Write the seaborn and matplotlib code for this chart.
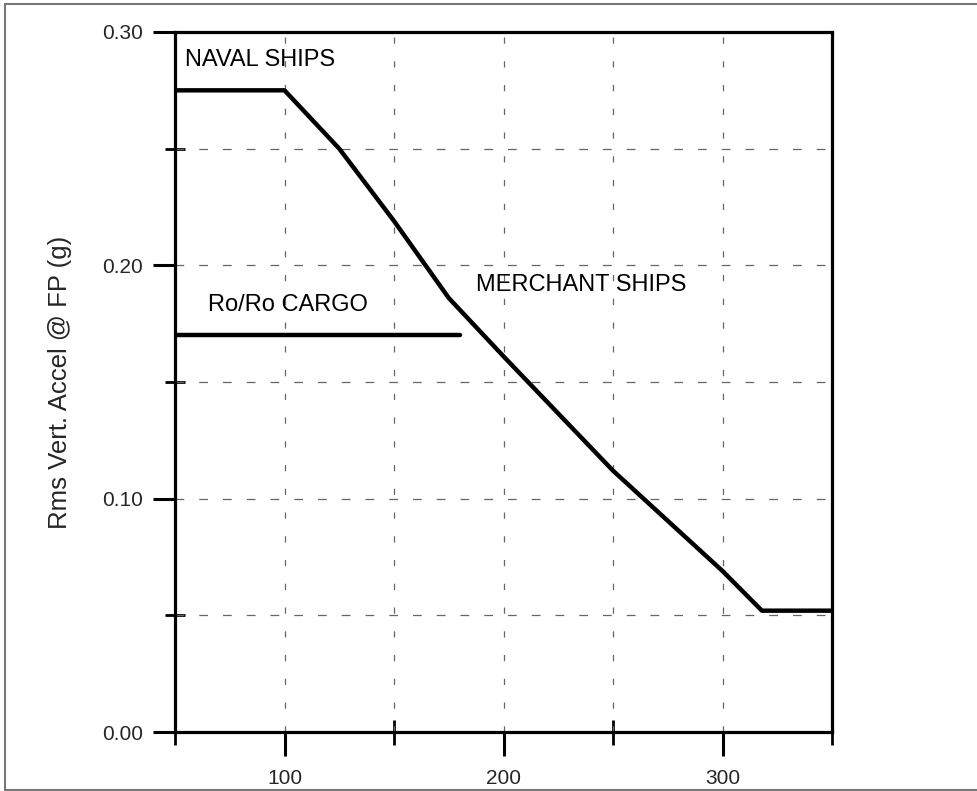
import numpy as np
import pandas as pd
import matplotlib
matplotlib.use("Agg")
import matplotlib.pyplot as plt
from matplotlib.lines import Line2D
from matplotlib.ticker import FixedLocator, FormatStrFormatter
import seaborn as sns

# Data
naval_merchant_x = [50, 100, 125, 150, 175, 200, 250, 300, 318, 350]
naval_merchant_y = [0.275, 0.275, 0.250, 0.219, 0.186, 0.161, 0.112, 0.069, 0.052, 0.052]
roro_x = [50, 180]
roro_y = [0.170, 0.170]

x_major_ticks = [100, 200, 300]
x_minor_ticks = [50, 150, 250, 350]
y_major_ticks = [0.00, 0.10, 0.20, 0.30]
y_minor_ticks = [0.05, 0.15, 0.25]
grid_x = [100, 150, 200, 250, 300]
grid_y = [0.05, 0.10, 0.15, 0.20, 0.25]

y_label = "Rms Vert. Accel @ FP (g)"
labels = ["NAVAL SHIPS", "Ro/Ro CARGO", "MERCHANT SHIPS"]
label_x = [54.5, 65, 187.5]
label_y = [0.288, 0.183, 0.1915]

sns.set_style("white")
plt.rcParams['font.family'] = ['Liberation Sans', 'DejaVu Sans']

fig = plt.figure(figsize=(9.78, 7.91), dpi=100)
ax = fig.add_axes([175/978, 1 - 732/791, (832-175)/978, (732-32)/791])

df1 = pd.DataFrame({"x": naval_merchant_x, "y": naval_merchant_y})
df2 = pd.DataFrame({"x": roro_x, "y": roro_y})

# grid
for gx in grid_x:
    ax.axvline(gx, color="#666666", lw=0.9, dashes=(5, 14), zorder=1)
for gy in grid_y:
    ax.axhline(gy, color="#666666", lw=0.9, dashes=(7, 12), zorder=1)

sns.lineplot(data=df1, x="x", y="y", ax=ax, color="black", lw=3.2, sort=False,
             estimator=None, zorder=3)
sns.lineplot(data=df2, x="x", y="y", ax=ax, color="black", lw=3.2, sort=False,
             estimator=None, zorder=3)

ax.set_xlim(50, 350)
ax.set_ylim(0, 0.30)

ax.xaxis.set_major_locator(FixedLocator(x_major_ticks))
ax.xaxis.set_minor_locator(FixedLocator(x_minor_ticks))
ax.yaxis.set_major_locator(FixedLocator(y_major_ticks))
ax.yaxis.set_minor_locator(FixedLocator(y_minor_ticks))
ax.yaxis.set_major_formatter(FormatStrFormatter("%.2f"))

ax.tick_params(axis="x", which="major", direction="out", length=17, width=2.2,
               labelsize=15, pad=10, color="black", bottom=True)
ax.tick_params(axis="x", which="minor", direction="inout", length=18, width=2.0,
               color="black", bottom=True)
ax.tick_params(axis="y", which="major", direction="out", length=16, width=2.2,
               labelsize=15, pad=7, color="black", left=True)
ax.tick_params(axis="y", which="minor", direction="inout", length=15, width=2.0,
               color="black", left=True)

for s in ax.spines.values():
    s.set_linewidth(2.3)
    s.set_color("black")
    s.set_visible(True)

ax.set_xlabel("")
ax.set_ylabel(y_label, fontsize=18.5, va="center")
ax.yaxis.set_label_coords((60 - 175) / 657, 0.5)

for t, lx, ly in zip(labels, label_x, label_y):
    ax.text(lx, ly, t, fontsize=17, va="center", ha="left", color="black", zorder=4)

# outer border of the figure
border_kw = dict(color="#777777", lw=1.5, transform=fig.transFigure)
fig.add_artist(Line2D([5/978, 5/978], [1/791, 1 - 4/791], **border_kw))
fig.add_artist(Line2D([5/978, 1.0], [1 - 4/791, 1 - 4/791], **border_kw))
fig.add_artist(Line2D([5/978, 1.0], [1/791, 1/791], **border_kw))

fig.savefig("out.png", dpi=100, facecolor="white")
